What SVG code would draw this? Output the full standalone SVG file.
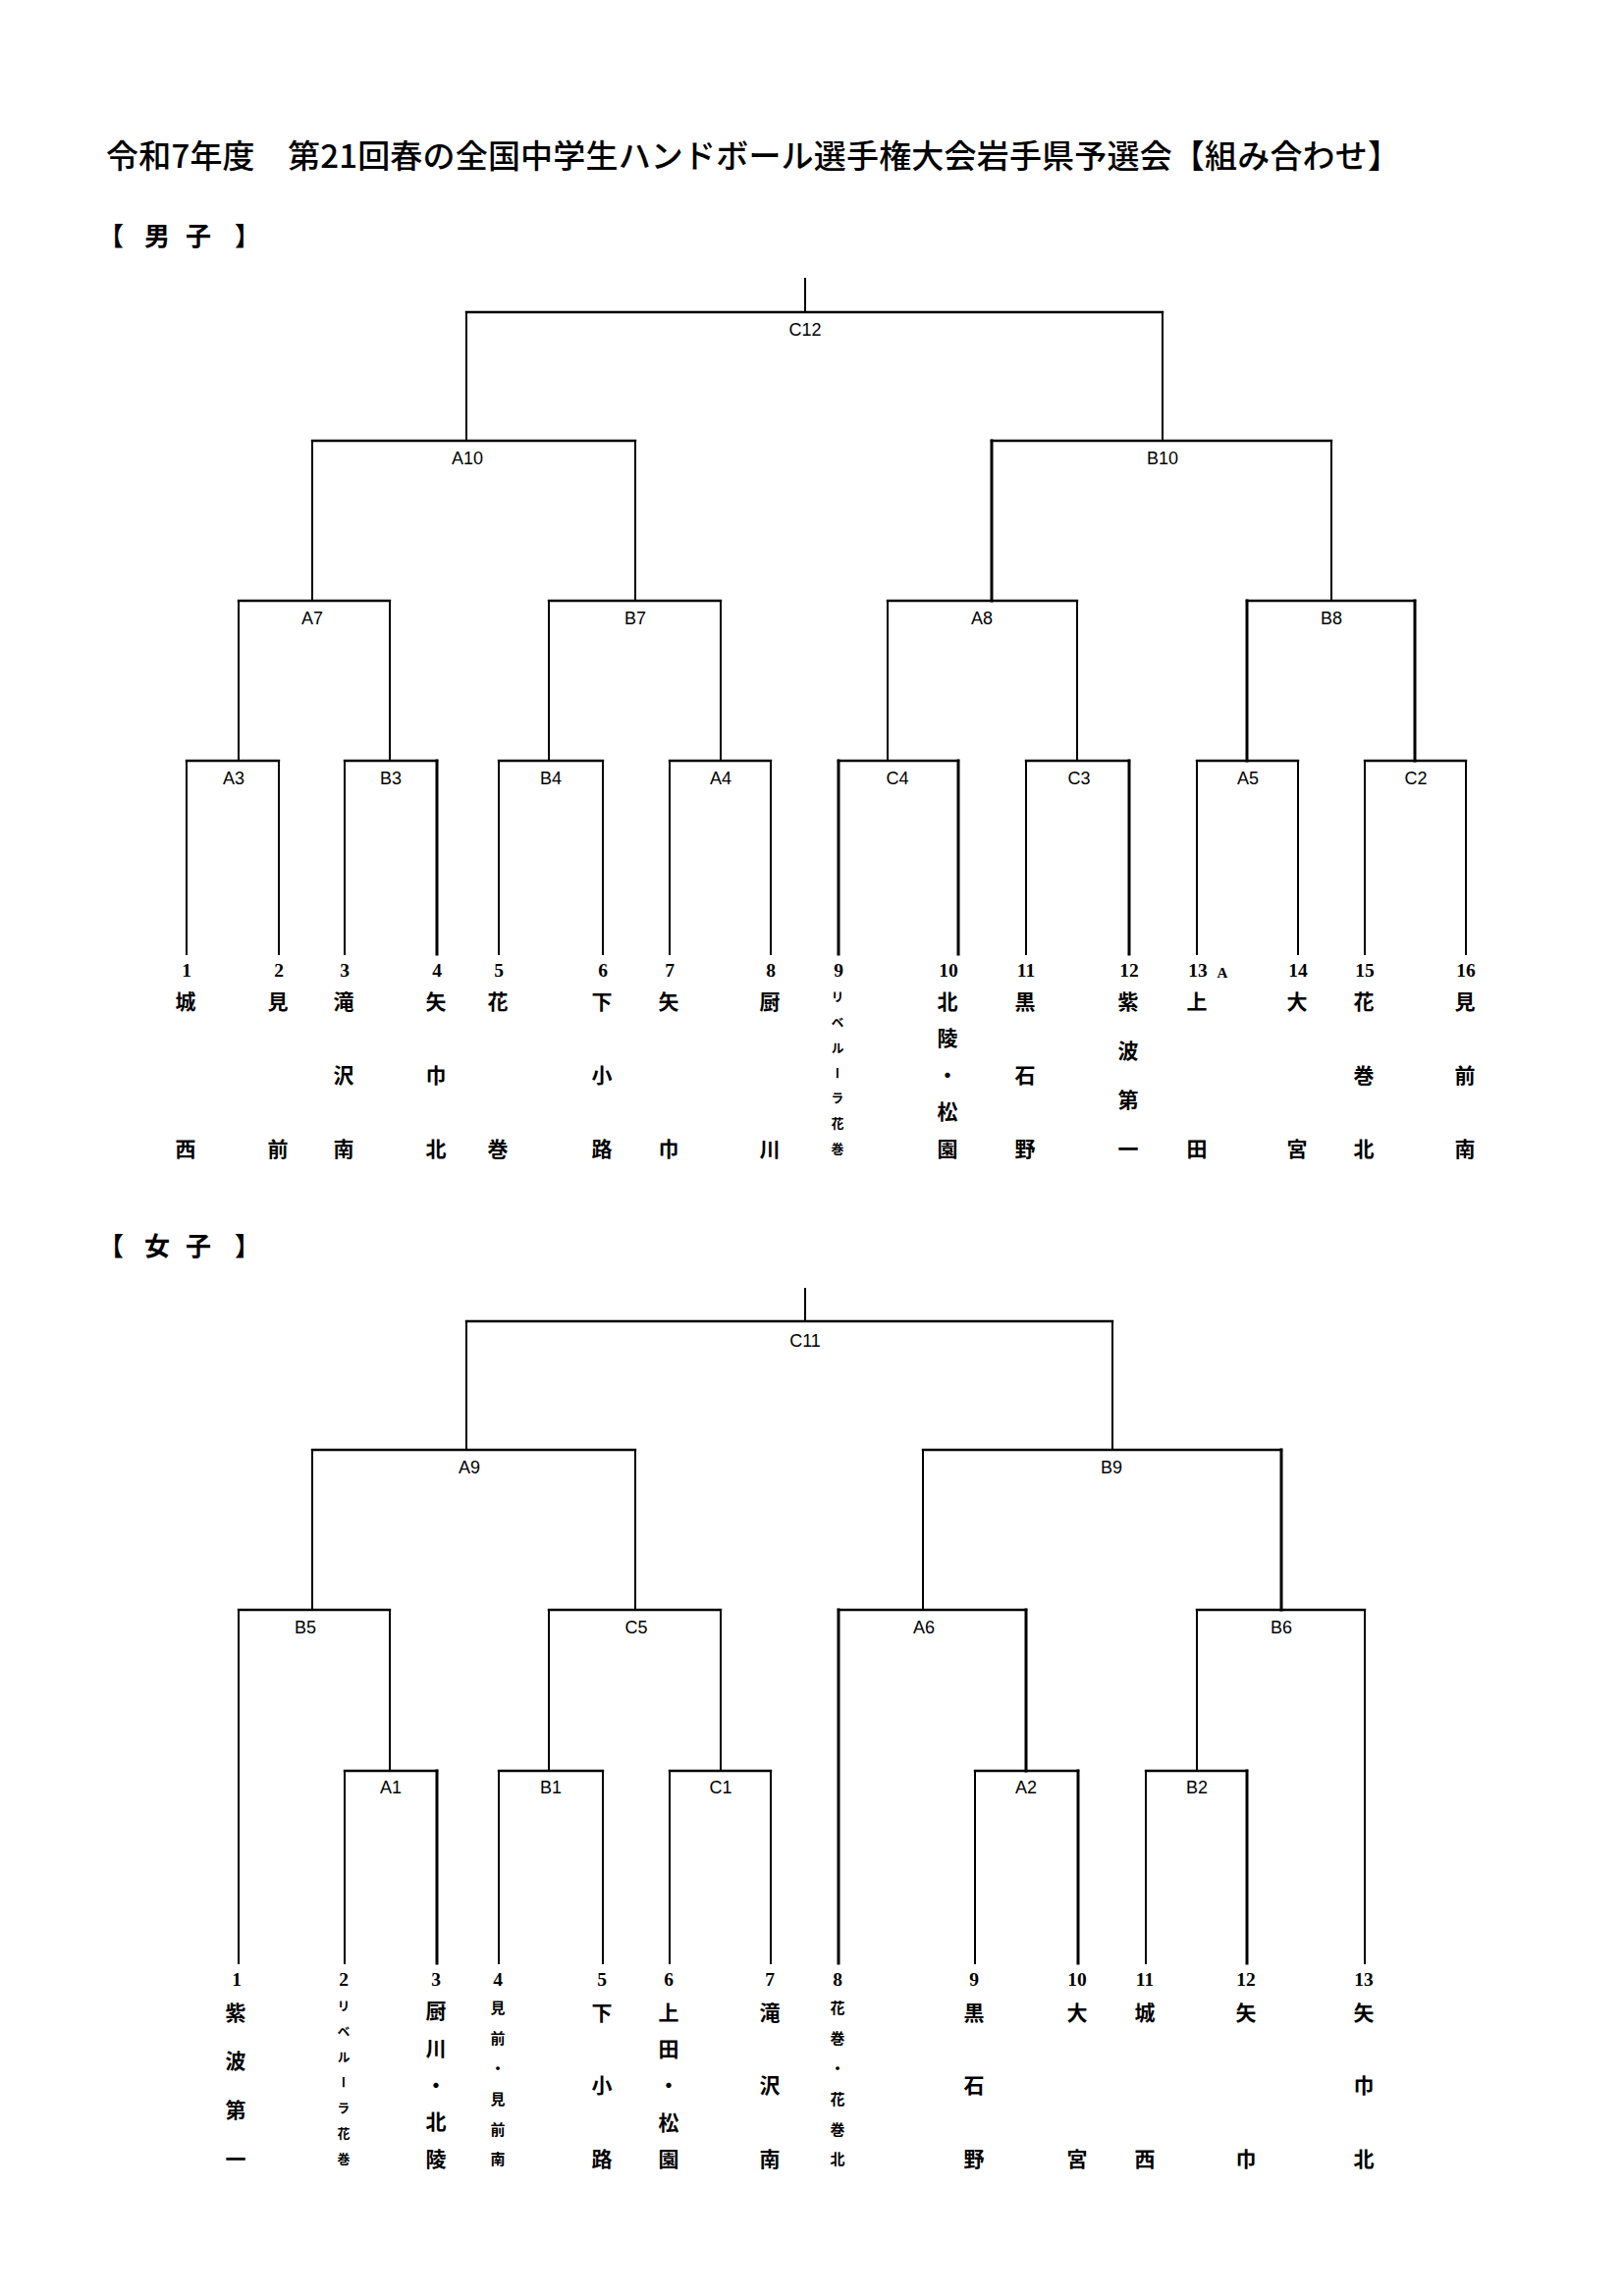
<svg xmlns="http://www.w3.org/2000/svg" width="1654" height="2339" viewBox="0 0 1654 2339">
<style>
.bg{fill:#fff}
.ln{stroke:#000;stroke-width:2;fill:none;stroke-linecap:square}
.hz{stroke:#000;stroke-width:2.4;fill:none;stroke-linecap:square}
.k{stroke-width:3}
.ttl{font-family:"Noto Sans CJK JP","Noto Sans CJK SC",sans-serif;font-size:33px;font-weight:500;fill:#000}
.hd{font-family:"Noto Sans CJK JP","Noto Sans CJK SC",sans-serif;font-size:26px;font-weight:bold;fill:#000;text-anchor:middle}
.lb{font-family:"Liberation Sans",Arial,sans-serif;font-size:18px;fill:#000;text-anchor:middle}
.no{font-family:"Liberation Serif","Times New Roman",serif;font-size:19.5px;font-weight:bold;fill:#000;text-anchor:middle}
.nm{font-family:"Noto Sans CJK JP","Noto Sans CJK SC",sans-serif;font-size:21px;font-weight:bold;fill:#000;text-anchor:middle;writing-mode:vertical-rl}
.sm{font-size:13px}
.md{font-size:15px}
</style>
<rect class="bg" x="0" y="0" width="1654" height="2339"/>
<text class="ttl" x="108" y="171" textLength="1318" lengthAdjust="spacing">令和7年度　第21回春の全国中学生ハンドボール選手権大会岩手県予選会【組み合わせ】</text>
<g id="hdr-boys"><text class="hd" y="250"><tspan x="113">【</tspan><tspan x="160">男</tspan><tspan x="202">子</tspan><tspan x="252">】</tspan></text></g>
<g id="hdr-girls"><text class="hd" y="1279"><tspan x="113">【</tspan><tspan x="160">女</tspan><tspan x="202">子</tspan><tspan x="252">】</tspan></text></g>

<g id="connectors">
<!-- boys -->
<path class="ln" d="M820 284V318"/>
<path class="hz" d="M475 318H1184"/>
<path class="ln" d="M475 318V449M1184 318V449"/>
<path class="hz" d="M318 449H647M1010 449H1356"/>
<path class="ln" d="M318 449V612M647 449V612M1356 449V612"/>
<path class="ln k" d="M1010 449V612"/>
<path class="hz" d="M243 612H397M559 612H734M904 612H1097M1270 612H1441"/>
<path class="ln" d="M243 612V775M397 612V775M559 612V775M734 612V775M904 612V775M1097 612V775"/>
<path class="ln k" d="M1270 612V775M1441 612V775"/>
<path class="hz" d="M190 775H284M351 775H445M508 775H614M682 775H785M854 775H976M1045 775H1150M1219 775H1322M1390 775H1493"/>
<path class="ln" d="M190 775V972M284 775V972M351 775V972M508 775V972M614 775V972M682 775V972M785 775V972M1045 775V972M1219 775V972M1322 775V972M1390 775V972M1493 775V972"/>
<path class="ln k" d="M445 775V972M854 775V972M976 775V972M1150 775V972"/>
<!-- girls -->
<path class="ln" d="M820 1313V1346"/>
<path class="hz" d="M475 1346H1133"/>
<path class="ln" d="M475 1346V1477M1133 1346V1477"/>
<path class="hz" d="M318 1477H647M940 1477H1305"/>
<path class="ln" d="M318 1477V1640M647 1477V1640M940 1477V1640"/>
<path class="ln k" d="M1305 1477V1640"/>
<path class="hz" d="M243 1640H397M559 1640H734M854 1640H1045M1219 1640H1390"/>
<path class="ln" d="M243 1640V2000M397 1640V1804M559 1640V1804M734 1640V1804M1219 1640V1804M1390 1640V2000"/>
<path class="ln k" d="M854 1640V2000M1045 1640V1804"/>
<path class="hz" d="M351 1804H445M508 1804H614M682 1804H785M993 1804H1098M1167 1804H1270"/>
<path class="ln" d="M351 1804V2000M508 1804V2000M614 1804V2000M682 1804V2000M785 1804V2000M993 1804V2000M1167 1804V2000"/>
<path class="ln k" d="M445 1804V2000M1098 1804V2000M1270 1804V2000"/>
</g>

<!-- boys match labels -->
<g id="m-C12"><text class="lb" x="820" y="342">C12</text></g>
<g id="m-A10"><text class="lb" x="476" y="473">A10</text></g>
<g id="m-B10"><text class="lb" x="1184" y="473">B10</text></g>
<g id="m-A7"><text class="lb" x="318" y="636">A7</text></g>
<g id="m-B7"><text class="lb" x="647" y="636">B7</text></g>
<g id="m-A8"><text class="lb" x="1000" y="636">A8</text></g>
<g id="m-B8"><text class="lb" x="1356" y="636">B8</text></g>
<g id="m-A3"><text class="lb" x="238" y="799">A3</text></g>
<g id="m-B3"><text class="lb" x="398" y="799">B3</text></g>
<g id="m-B4"><text class="lb" x="561" y="799">B4</text></g>
<g id="m-A4"><text class="lb" x="734" y="799">A4</text></g>
<g id="m-C4"><text class="lb" x="914" y="799">C4</text></g>
<g id="m-C3"><text class="lb" x="1099" y="799">C3</text></g>
<g id="m-A5"><text class="lb" x="1271" y="799">A5</text></g>
<g id="m-C2"><text class="lb" x="1442" y="799">C2</text></g>

<!-- boys teams -->
<g id="b1"><text class="no" x="190" y="995">1</text><text class="nm"><tspan x="189" y="1020">城</tspan><tspan x="189" y="1170">西</tspan></text></g>
<g id="b2"><text class="no" x="284" y="995">2</text><text class="nm"><tspan x="283" y="1020">見</tspan><tspan x="283" y="1170">前</tspan></text></g>
<g id="b3"><text class="no" x="351" y="995">3</text><text class="nm"><tspan x="350" y="1020">滝</tspan><tspan x="350" y="1095">沢</tspan><tspan x="350" y="1170">南</tspan></text></g>
<g id="b4"><text class="no" x="445" y="995">4</text><text class="nm"><tspan x="444" y="1020">矢</tspan><tspan x="444" y="1095">巾</tspan><tspan x="444" y="1170">北</tspan></text></g>
<g id="b5"><text class="no" x="508" y="995">5</text><text class="nm"><tspan x="507" y="1020">花</tspan><tspan x="507" y="1170">巻</tspan></text></g>
<g id="b6"><text class="no" x="614" y="995">6</text><text class="nm"><tspan x="613" y="1020">下</tspan><tspan x="613" y="1095">小</tspan><tspan x="613" y="1170">路</tspan></text></g>
<g id="b7"><text class="no" x="682" y="995">7</text><text class="nm"><tspan x="681" y="1020">矢</tspan><tspan x="681" y="1170">巾</tspan></text></g>
<g id="b8"><text class="no" x="785" y="995">8</text><text class="nm"><tspan x="784" y="1020">厨</tspan><tspan x="784" y="1170">川</tspan></text></g>
<g id="b9"><text class="no" x="854" y="995">9</text><text class="nm sm"><tspan x="853" y="1015">リ</tspan><tspan x="853" y="1041">ベ</tspan><tspan x="853" y="1067">ル</tspan><tspan x="853" y="1093">ー</tspan><tspan x="853" y="1118">ラ</tspan><tspan x="853" y="1144">花</tspan><tspan x="853" y="1170">巻</tspan></text></g>
<g id="b10"><text class="no" x="966" y="995">10</text><text class="nm"><tspan x="965" y="1020">北</tspan><tspan x="965" y="1057">陵</tspan><tspan x="965" y="1095">・</tspan><tspan x="965" y="1132">松</tspan><tspan x="965" y="1170">園</tspan></text></g>
<g id="b11"><text class="no" x="1045" y="995">11</text><text class="nm"><tspan x="1044" y="1020">黒</tspan><tspan x="1044" y="1095">石</tspan><tspan x="1044" y="1170">野</tspan></text></g>
<g id="b12"><text class="no" x="1150" y="995">12</text><text class="nm"><tspan x="1149" y="1020">紫</tspan><tspan x="1149" y="1070">波</tspan><tspan x="1149" y="1120">第</tspan><tspan x="1149" y="1170">一</tspan></text></g>
<g id="b13"><text class="no" x="1220" y="995">13</text><text class="no" x="1245" y="996" style="font-size:15px">A</text><text class="nm"><tspan x="1219" y="1020">上</tspan><tspan x="1219" y="1170">田</tspan></text></g>
<g id="b14"><text class="no" x="1322" y="995">14</text><text class="nm"><tspan x="1321" y="1020">大</tspan><tspan x="1321" y="1170">宮</tspan></text></g>
<g id="b15"><text class="no" x="1390" y="995">15</text><text class="nm"><tspan x="1389" y="1020">花</tspan><tspan x="1389" y="1095">巻</tspan><tspan x="1389" y="1170">北</tspan></text></g>
<g id="b16"><text class="no" x="1493" y="995">16</text><text class="nm"><tspan x="1492" y="1020">見</tspan><tspan x="1492" y="1095">前</tspan><tspan x="1492" y="1170">南</tspan></text></g>

<!-- girls match labels -->
<g id="m-C11"><text class="lb" x="820" y="1372">C11</text></g>
<g id="m-A9"><text class="lb" x="478" y="1501">A9</text></g>
<g id="m-B9"><text class="lb" x="1132" y="1501">B9</text></g>
<g id="m-B5"><text class="lb" x="311" y="1664">B5</text></g>
<g id="m-C5"><text class="lb" x="648" y="1664">C5</text></g>
<g id="m-A6"><text class="lb" x="941" y="1664">A6</text></g>
<g id="m-B6"><text class="lb" x="1305" y="1664">B6</text></g>
<g id="m-A1"><text class="lb" x="398" y="1827">A1</text></g>
<g id="m-B1"><text class="lb" x="561" y="1827">B1</text></g>
<g id="m-C1"><text class="lb" x="734" y="1827">C1</text></g>
<g id="m-A2"><text class="lb" x="1045" y="1827">A2</text></g>
<g id="m-B2"><text class="lb" x="1219" y="1827">B2</text></g>

<!-- girls teams -->
<g id="g1"><text class="no" x="241" y="2023">1</text><text class="nm"><tspan x="240" y="2050">紫</tspan><tspan x="240" y="2099">波</tspan><tspan x="240" y="2149">第</tspan><tspan x="240" y="2199">一</tspan></text></g>
<g id="g2"><text class="no" x="350" y="2023">2</text><text class="nm sm"><tspan x="350" y="2043">リ</tspan><tspan x="350" y="2069">ベ</tspan><tspan x="350" y="2095">ル</tspan><tspan x="350" y="2121">ー</tspan><tspan x="350" y="2147">ラ</tspan><tspan x="350" y="2173">花</tspan><tspan x="350" y="2199">巻</tspan></text></g>
<g id="g3"><text class="no" x="444" y="2023">3</text><text class="nm"><tspan x="444" y="2048">厨</tspan><tspan x="444" y="2086">川</tspan><tspan x="444" y="2124">・</tspan><tspan x="444" y="2161">北</tspan><tspan x="444" y="2199">陵</tspan></text></g>
<g id="g4"><text class="no" x="507" y="2023">4</text><text class="nm md"><tspan x="507" y="2045">見</tspan><tspan x="507" y="2076">前</tspan><tspan x="507" y="2107">・</tspan><tspan x="507" y="2138">見</tspan><tspan x="507" y="2169">前</tspan><tspan x="507" y="2199">南</tspan></text></g>
<g id="g5"><text class="no" x="613" y="2023">5</text><text class="nm"><tspan x="613" y="2050">下</tspan><tspan x="613" y="2124">小</tspan><tspan x="613" y="2199">路</tspan></text></g>
<g id="g6"><text class="no" x="681" y="2023">6</text><text class="nm"><tspan x="681" y="2050">上</tspan><tspan x="681" y="2087">田</tspan><tspan x="681" y="2124">・</tspan><tspan x="681" y="2162">松</tspan><tspan x="681" y="2199">園</tspan></text></g>
<g id="g7"><text class="no" x="784" y="2023">7</text><text class="nm"><tspan x="784" y="2050">滝</tspan><tspan x="784" y="2124">沢</tspan><tspan x="784" y="2199">南</tspan></text></g>
<g id="g8"><text class="no" x="853" y="2023">8</text><text class="nm md"><tspan x="853" y="2045">花</tspan><tspan x="853" y="2076">巻</tspan><tspan x="853" y="2107">・</tspan><tspan x="853" y="2138">花</tspan><tspan x="853" y="2169">巻</tspan><tspan x="853" y="2199">北</tspan></text></g>
<g id="g9"><text class="no" x="992" y="2023">9</text><text class="nm"><tspan x="992" y="2050">黒</tspan><tspan x="992" y="2124">石</tspan><tspan x="992" y="2199">野</tspan></text></g>
<g id="g10"><text class="no" x="1097" y="2023">10</text><text class="nm"><tspan x="1097" y="2050">大</tspan><tspan x="1097" y="2199">宮</tspan></text></g>
<g id="g11"><text class="no" x="1166" y="2023">11</text><text class="nm"><tspan x="1166" y="2050">城</tspan><tspan x="1166" y="2199">西</tspan></text></g>
<g id="g12"><text class="no" x="1269" y="2023">12</text><text class="nm"><tspan x="1269" y="2050">矢</tspan><tspan x="1269" y="2199">巾</tspan></text></g>
<g id="g13"><text class="no" x="1389" y="2023">13</text><text class="nm"><tspan x="1389" y="2050">矢</tspan><tspan x="1389" y="2124">巾</tspan><tspan x="1389" y="2199">北</tspan></text></g>
</svg>
